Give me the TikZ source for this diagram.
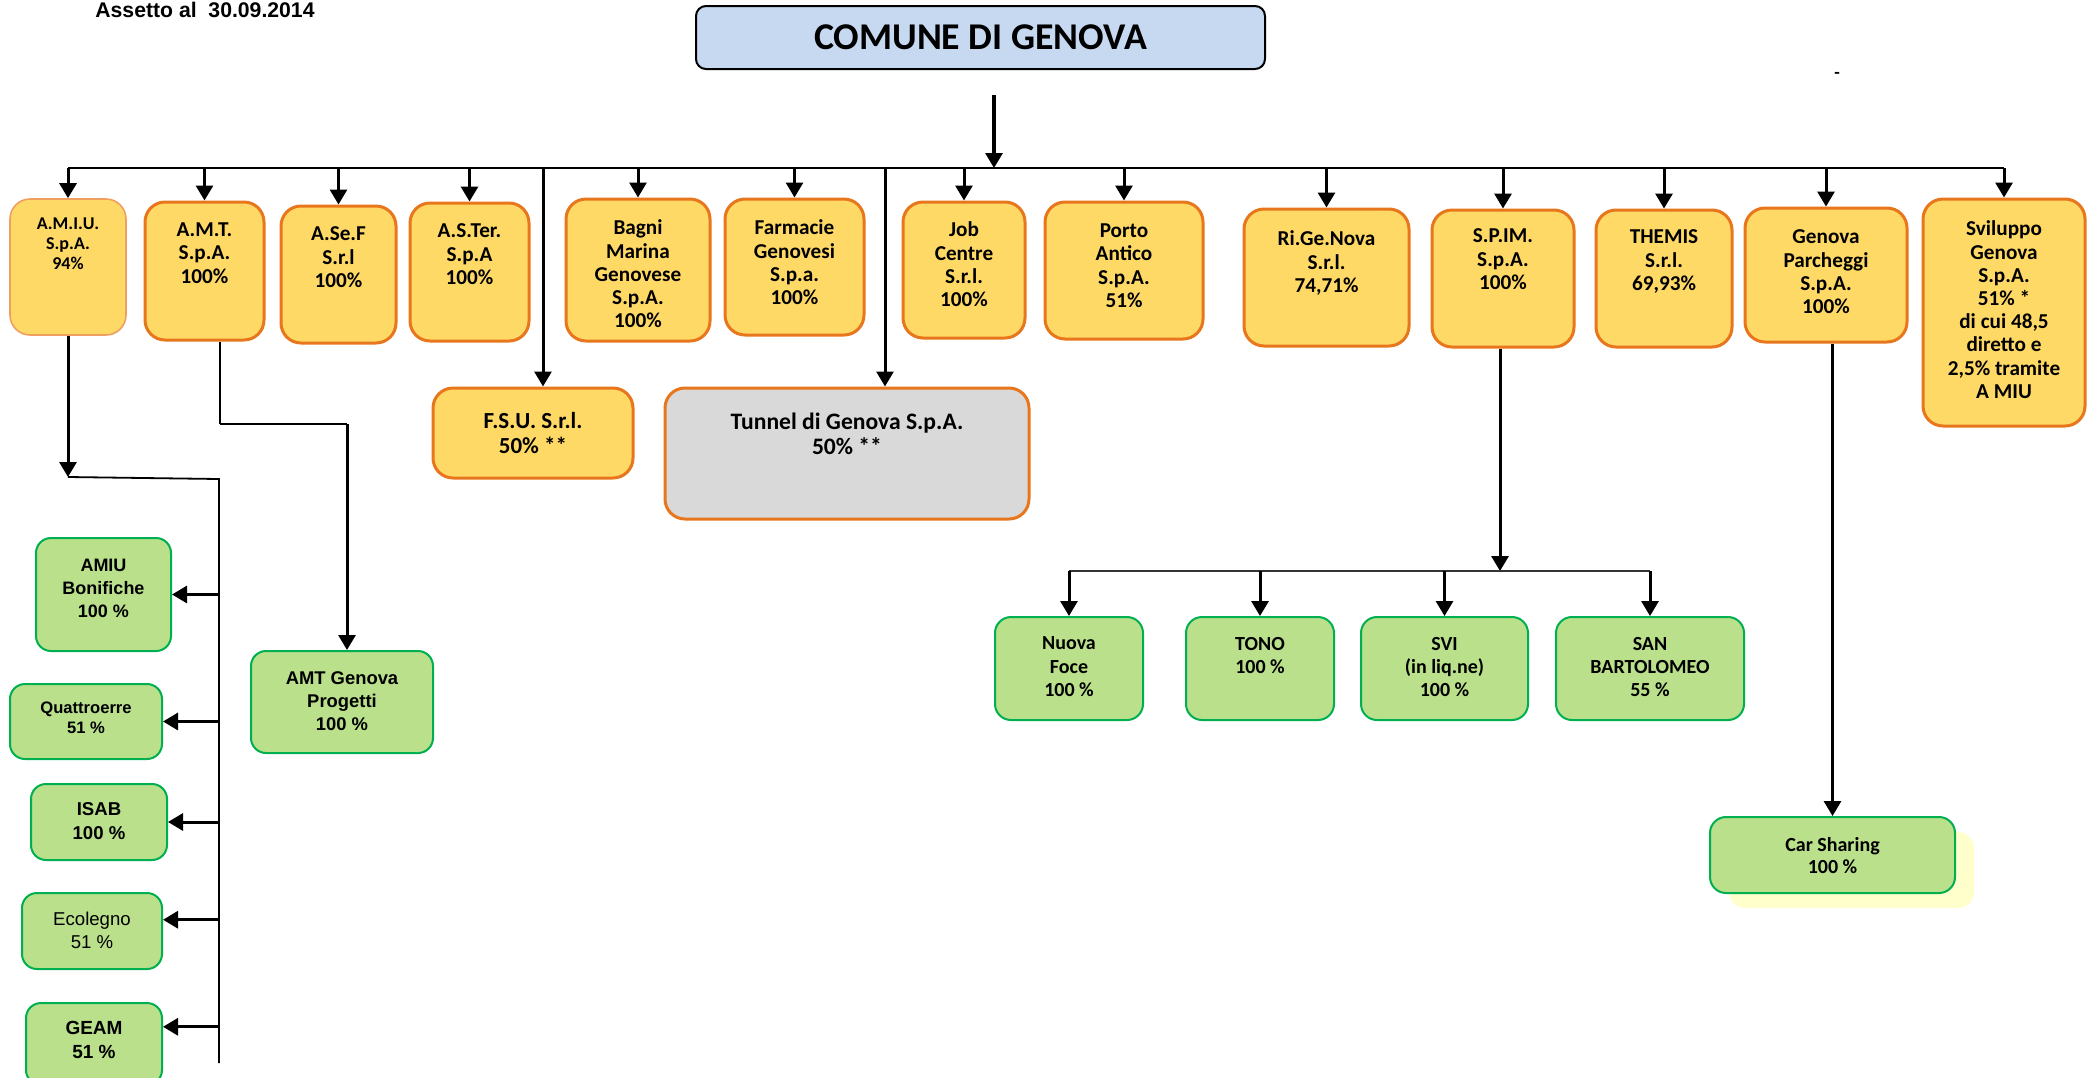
\documentclass[tikz,border=0pt]{standalone}
\usepackage{fontspec}
\setmainfont{Carlito}
\newfontfamily\arialfont{Liberation Sans}
\usepackage{xcolor}
\usetikzlibrary{arrows.meta,shadows}

\definecolor{yelfill}{RGB}{255,217,102}
\definecolor{orline}{RGB}{232,118,28}
\definecolor{grfill}{RGB}{186,224,140}
\definecolor{grline}{RGB}{0,176,80}
\definecolor{bluefill}{RGB}{198,217,241}
\definecolor{greyfill}{RGB}{217,217,217}
\definecolor{shadowyel}{RGB}{255,255,204}

\newcommand{\cbox}[4]{\parbox[c][#2][t]{#1}{\centering\vspace*{#3}#4\par}}

\tikzset{
    yel/.style={draw=orline, fill=yelfill, line width=1.5pt, rounded corners=10pt, inner sep=0pt, font=\fontsize{10.6}{11.6}\selectfont\bfseries},
    grn/.style={draw=grline, fill=grfill, line width=1pt, rounded corners=8pt, inner sep=0pt, font=\fontsize{10}{11.7}\selectfont\bfseries},
    grnl/.style={grn, rounded corners=7.5pt, font=\arialfont\fontsize{9}{11.5}\selectfont\bfseries},
    arr/.style={line width=1.5pt, -{Triangle[length=7.5pt,width=8.5pt]}},
}

\begin{document}
\begin{tikzpicture}[x=0.5pt,y=-0.5pt]

    \useasboundingbox (0,0) rectangle (2087,1077);

    \draw (95,17) node [anchor=base west, inner sep=0pt, font=\arialfont\fontsize{10.6}{12}\selectfont\bfseries] (assetto) {Assetto al~ 30.09.2014};
    \draw (980.5,37.5) node [draw, line width=1pt, fill=bluefill, rounded corners=5pt, minimum width=284.5pt, minimum height=31.5pt, inner sep=0pt, font=\fontsize{18.9}{22}\selectfont\bfseries] (comune) {\raisebox{-1.5pt}{COMUNE DI GENOVA}};
    \draw (1837,75) node [inner sep=0pt, font=\small\bfseries] (dash) {-};

    \draw (68,267) node [yel, draw=orline!70, line width=0.8pt, font=\fontsize{9}{10}\selectfont\bfseries] (amiu) {\cbox{58pt}{68pt}{9.5pt}{A.M.I.U.\\S.p.A.\\94\%}};
    \draw (204.5,271) node [yel] (amt) {\cbox{59.5pt}{69pt}{10.5pt}{A.M.T.\\S.p.A.\\100\%}};
    \draw (338.5,274.5) node [yel] (asef) {\cbox{57.5pt}{68.5pt}{10.5pt}{A.Se.F\\S.r.l\\100\%}};
    \draw (469.5,272) node [yel] (aster) {\cbox{59.5pt}{69pt}{10.5pt}{A.S.Ter.\\S.p.A\\100\%}};
    \draw (638,270) node [yel] (bagni) {\cbox{72pt}{71pt}{10.5pt}{Bagni\\Marina\\Genovese\\S.p.A.\\100\%}};
    \draw (794.5,267) node [yel] (farm) {\cbox{69.5pt}{68pt}{10.5pt}{Farmacie\\Genovesi\\S.p.a.\\100\%}};
    \draw (964,270) node [yel] (job) {\cbox{61pt}{68pt}{10pt}{Job\\Centre\\S.r.l.\\100\%}};
    \draw (1124,270.5) node [yel] (porto) {\cbox{79pt}{68.5pt}{11pt}{Porto\\Antico\\S.p.A.\\51\%}};
    \draw (1326.5,277.5) node [yel] (rigen) {\cbox{82.5pt}{68.5pt}{11pt}{Ri.Ge.Nova\\S.r.l.\\74,71\%}};
    \draw (1503,278.5) node [yel] (spim) {\cbox{71pt}{68.5pt}{9.5pt}{S.P.IM.\\S.p.A.\\100\%}};
    \draw (1664,278.5) node [yel] (themis) {\cbox{68pt}{68.5pt}{10pt}{THEMIS\\S.r.l.\\69,93\%}};
    \draw (1826,275) node [yel] (genpark) {\cbox{81pt}{67pt}{11pt}{Genova\\Parcheggi\\S.p.A.\\100\%}};
    \draw (2004,312.5) node [yel] (svil) {\cbox{81pt}{113.5pt}{11pt}{Sviluppo\\Genova\\S.p.A.\\51\% *\\di cui 48,5\\diretto e\\2,5\% tramite\\A MIU}};

    \draw (533,433) node [yel, font=\fontsize{11.5}{12.5}\selectfont\bfseries] (fsu) {\cbox{100pt}{45pt}{12pt}{F.S.U. S.r.l.\\50\% **}};
    \draw (847,453.5) node [yel, fill=greyfill, font=\fontsize{11.8}{12.5}\selectfont\bfseries] (tunnel) {\cbox{182pt}{65.5pt}{12.5pt}{Tunnel di Genova S.p.A.\\50\% **}};

    \draw (103.5,594.5) node [grnl] (bonif) {\cbox{67.5pt}{56.5pt}{10.5pt}{AMIU\\Bonifiche\\100 \%}};
    \draw (86,721.5) node [grnl, font=\arialfont\fontsize{8.3}{10}\selectfont\bfseries] (quattro) {\cbox{76pt}{37.5pt}{9pt}{Quattroerre\\51 \%}};
    \draw (99,822) node [grnl, font=\arialfont\fontsize{9.3}{12}\selectfont\bfseries] (isab) {\cbox{68pt}{38pt}{9pt}{ISAB\\100 \%}};
    \draw (92,931) node [grnl, font=\arialfont\fontsize{9.3}{11.5}\selectfont] (ecol) {\cbox{70pt}{38pt}{9.5pt}{Ecolegno\\51 \%}};
    \draw (94,1044) node [grnl, font=\arialfont\fontsize{9.5}{12}\selectfont\bfseries] (geam) {\cbox{68pt}{41pt}{9pt}{GEAM\\51 \%}};
    \draw (342,702) node [grnl, font=\arialfont\fontsize{9.2}{11.5}\selectfont\bfseries] (amtgp) {\cbox{91pt}{51pt}{10.5pt}{AMT Genova\\Progetti\\100 \%}};

    \draw (1069,668.5) node [grn] (nfoce) {\cbox{74pt}{51.5pt}{10pt}{Nuova\\Foce\\100 \%}};
    \draw (1260,668.5) node [grn] (tono) {\cbox{74pt}{51.5pt}{10pt}{TONO\\100 \%}};
    \draw (1444.5,668.5) node [grn] (svi) {\cbox{83.5pt}{51.5pt}{10pt}{SVI\\(in liq.ne)\\100 \%}};
    \draw (1650,668.5) node [grn] (sanb) {\cbox{94pt}{51.5pt}{10pt}{SAN\\BARTOLOMEO\\55 \%}};
    \draw (1832.5,855) node [grn, font=\fontsize{10}{11.3}\selectfont\bfseries, drop shadow={fill=shadowyel, opacity=1, shadow xshift=9.5pt, shadow yshift=-7.5pt}] (carsh) {\cbox{122.5pt}{38pt}{10pt}{Car Sharing\\100 \%}};

    \coordinate (cdown) at (994,95);
    \coordinate (bus) at (994,168);
    \draw [arr, line width=1.6pt] (cdown) -- (bus);
    \draw [line width=1.1pt] (amiu.north |- bus) -- (svil.north |- bus);
    \draw [arr] (amiu.north |- bus) -- (amiu.north);
    \draw [arr] (amt.north |- bus) -- (amt.north);
    \draw [arr] (asef.north |- bus) -- (asef.north);
    \draw [arr] (aster.north |- bus) -- (aster.north);
    \draw [arr] (bagni.north |- bus) -- (bagni.north);
    \draw [arr] (farm.north |- bus) -- (farm.north);
    \draw [arr] (job.north |- bus) -- (job.north);
    \draw [arr] (porto.north |- bus) -- (porto.north);
    \draw [arr] (rigen.north |- bus) -- (rigen.north);
    \draw [arr] (spim.north |- bus) -- (spim.north);
    \draw [arr] (themis.north |- bus) -- (themis.north);
    \draw [arr] (genpark.north |- bus) -- (genpark.north);
    \draw [arr] (svil.north |- bus) -- (svil.north);

    \coordinate (fsux) at ([xshift=5pt]fsu.north);
    \coordinate (tunx) at ([xshift=19pt]tunnel.north);
    \draw [arr] (fsux |- bus) -- (fsux);
    \draw [arr] (tunx |- bus) -- (tunx);

    \coordinate (amiuj) at (68,477);
    \coordinate (amiuv) at (219,479);
    \coordinate (amiuend) at (219,1063);
    \draw [arr] (amiu.south) -- (amiuj);
    \draw [line width=0.9pt] (amiuj) -- (amiuv) -- (amiuend);
    \draw [arr] (bonif.east -| amiuv) -- (bonif.east);
    \draw [arr] (quattro.east -| amiuv) -- (quattro.east);
    \draw [arr] (isab.east -| amiuv) -- (isab.east);
    \draw [arr] (ecol.9 -| amiuv) -- (ecol.9);
    \draw [arr] (geam.14 -| amiuv) -- (geam.14);

    \coordinate (amtj) at (220,424);
    \coordinate (amtk) at (347,424);
    \draw [line width=0.6pt] (amtj |- amt.south) -- (amtj);
    \draw [line width=1.2pt] (amtj) -- (amtk);
    \draw [arr] (amtk) -- (amtk |- amtgp.north);

    \coordinate (spimj) at (1500,571);
    \draw [arr] (spimj |- spim.south) -- (spimj);
    \draw [line width=1.1pt, black!80] (nfoce.north |- spimj) -- (sanb.north |- spimj);
    \draw [arr] (nfoce.north |- spimj) -- (nfoce.north);
    \draw [arr] (tono.north |- spimj) -- (tono.north);
    \draw [arr] (svi.north |- spimj) -- (svi.north);
    \draw [arr] (sanb.north |- spimj) -- (sanb.north);

    \draw [arr] (carsh.north |- genpark.south) -- (carsh.north);

\end{tikzpicture}
\end{document}
